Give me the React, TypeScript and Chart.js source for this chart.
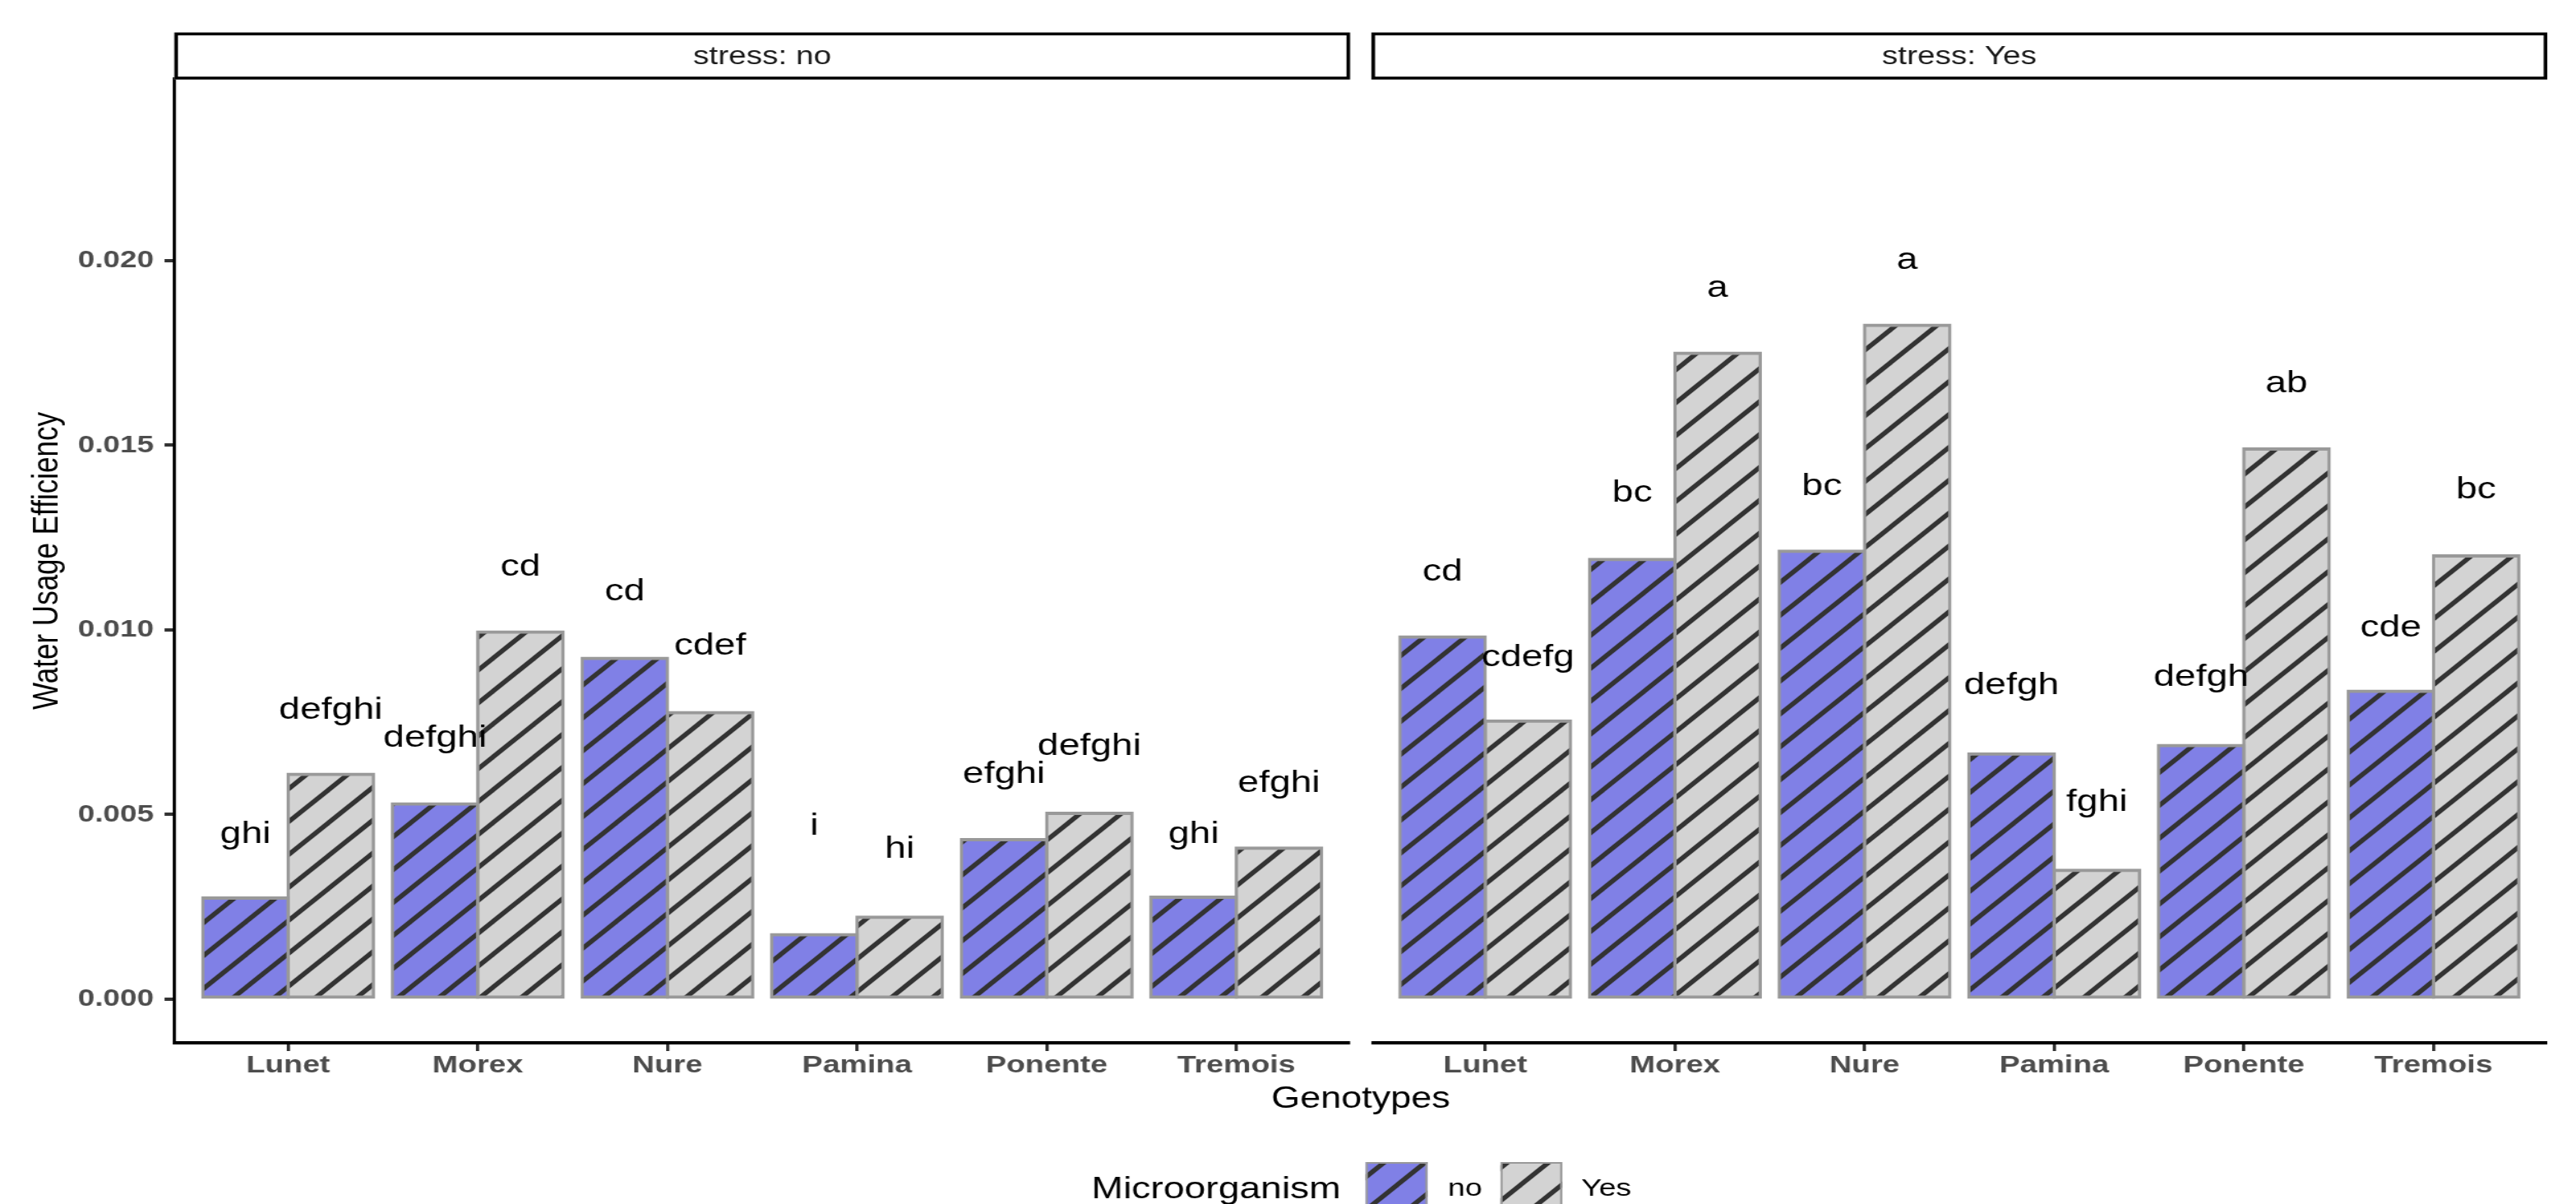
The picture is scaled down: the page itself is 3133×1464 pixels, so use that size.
import React, { useEffect, useRef } from "react";
import { Chart, registerables } from "chart.js";
Chart.register(...registerables);

// ---------------- data ----------------
const genotypes = ["Lunet", "Morex", "Nure", "Pamina", "Ponente", "Tremois"];
const panelTitles = ["stress: no", "stress: Yes"];
const microorganismLevels = ["no", "Yes"];
const yTickValues = [0, 0.005, 0.01, 0.015, 0.02];

// Water usage efficiency (bar heights)
const wueNoStressMicroNo = [0.00275, 0.0053, 0.00924, 0.00176, 0.00433, 0.00277];
const wueNoStressMicroYes = [0.0061, 0.00995, 0.00777, 0.00223, 0.00504, 0.0041];
const wueStressMicroNo = [0.00982, 0.01192, 0.01214, 0.00665, 0.00688, 0.00835];
const wueStressMicroYes = [0.00754, 0.0175, 0.01826, 0.0035, 0.01491, 0.01201];

// significance letters
const lettersNoStressMicroNo = ["ghi", "defghi", "cd", "i", "efghi", "ghi"];
const lettersNoStressMicroYes = ["defghi", "cd", "cdef", "hi", "defghi", "efghi"];
const lettersStressMicroNo = ["cd", "bc", "bc", "defgh", "defgh", "cde"];
const lettersStressMicroYes = ["cdefg", "a", "a", "fghi", "ab", "bc"];

// letter positions (value units, text baseline)
const letterYNoStressMicroNo = [0.00424, 0.00683, 0.0108, 0.00446, 0.00585, 0.00424];
const letterYNoStressMicroYes = [0.00759, 0.01147, 0.00933, 0.00384, 0.00661, 0.00562];
const letterYStressMicroNo = [0.01134, 0.01348, 0.01366, 0.00826, 0.00848, 0.00982];
const letterYStressMicroYes = [0.00902, 0.01902, 0.01978, 0.00509, 0.01643, 0.01357];

// ---------------- layout ----------------
const CANVAS_W = 2506;
const CANVAS_H = 1464;
const SCREEN_W = 3133;
const SX = SCREEN_W / CANVAS_W;
const ix = (s: number) => s / SX;
const FONT = "'Liberation Sans', Arial, Helvetica, sans-serif";

const X_MIN = 0.4;
const PANEL_SPAN = 6.2;
const PANEL_GAP = 26 / (1430 / 6.2);
const RIGHT_OFFSET = PANEL_SPAN + PANEL_GAP;
const X_MAX = X_MIN + PANEL_SPAN * 2 + PANEL_GAP;
const xLeft = genotypes.map((_, i) => i + 1);
const xRight = genotypes.map((_, i) => i + 1 + RIGHT_OFFSET);
const xTickValues = [...xLeft, ...xRight];
const xTickLabels = [...genotypes, ...genotypes];

const lettersByDataset = [
  [...lettersNoStressMicroNo, ...lettersStressMicroNo],
  [...lettersNoStressMicroYes, ...lettersStressMicroYes],
];
const letterYByDataset = [
  [...letterYNoStressMicroNo, ...letterYStressMicroNo],
  [...letterYNoStressMicroYes, ...letterYStressMicroYes],
];

function makePattern(fill: string) {
  const P = 40;
  const c = document.createElement("canvas");
  c.width = P;
  c.height = P;
  const g = c.getContext("2d")!;
  g.fillStyle = fill;
  g.fillRect(0, 0, P, P);
  g.strokeStyle = "#333333";
  g.lineWidth = 5.2;
  for (const k of [0, P, 2 * P]) {
    g.beginPath();
    g.moveTo(k - 2 * P, 2 * P);
    g.lineTo(k + 2 * P, -2 * P);
    g.stroke();
  }
  return g.createPattern(c, "repeat")!;
}

export default function App() {
  const ref = useRef<HTMLCanvasElement | null>(null);

  useEffect(() => {
    document.body.style.margin = "0";
    const canvas = ref.current!;
    const patNo = makePattern("#8080E6");
    const patYes = makePattern("#D3D3D3");
    const patterns = [patNo, patYes];

    const barBorder = { top: 4, bottom: 4, left: 3.2, right: 3.2 };

    const decor = {
      id: "decor",
      afterDatasetsDraw(chart: any) {
        const ctx = chart.ctx;
        const ys = chart.scales.y;
        ctx.save();
        ctx.fillStyle = "#000000";
        ctx.font = `37px ${FONT}`;
        ctx.textAlign = "center";
        ctx.textBaseline = "alphabetic";
        for (let d = 0; d < 2; d++) {
          const meta = chart.getDatasetMeta(d);
          meta.data.forEach((bar: any, i: number) => {
            ctx.fillText(lettersByDataset[d][i], bar.x, ys.getPixelForValue(letterYByDataset[d][i]));
          });
        }
        ctx.restore();
      },
      afterDraw(chart: any) {
        const ctx = chart.ctx;
        const xs = chart.scales.x;
        const area = chart.chartArea;
        ctx.save();
        const panels = [
          [xs.getPixelForValue(X_MIN), xs.getPixelForValue(X_MIN + PANEL_SPAN)],
          [xs.getPixelForValue(X_MIN + RIGHT_OFFSET), xs.getPixelForValue(X_MAX)],
        ];
        panels.forEach(([a, b], p) => {
          // x axis line
          ctx.fillStyle = "#000000";
          const start = p === 0 ? a - 1.6 : a;
          ctx.fillRect(start, area.bottom - 2, b - start, 4);
          // strip
          ctx.fillStyle = "#ffffff";
          ctx.fillRect(a, 39.5, b - a, 57.2);
          ctx.strokeStyle = "#000000";
          ctx.lineWidth = 3.5;
          ctx.strokeRect(a + 1.75, 41.25, b - a - 3.5, 53.7);
          ctx.fillStyle = "#1A1A1A";
          ctx.font = `31px ${FONT}`;
          ctx.textAlign = "center";
          ctx.textBaseline = "alphabetic";
          ctx.fillText(panelTitles[p], (a + b) / 2, 78);
        });

        // legend
        ctx.textAlign = "left";
        ctx.textBaseline = "alphabetic";
        ctx.fillStyle = "#000000";
        ctx.font = `37px ${FONT}`;
        ctx.fillText("Microorganism", ix(1327.5), 1457);
        const keyX = [ix(1661), ix(1825)];
        const labX = [ix(1761), ix(1923)];
        const keyW = ix(1736) - ix(1661);
        for (let k = 0; k < 2; k++) {
          ctx.fillStyle = patterns[k];
          ctx.fillRect(keyX[k], 1413, keyW, 60);
          ctx.strokeStyle = "#999999";
          ctx.lineWidth = 2;
          ctx.strokeRect(keyX[k] + 1, 1414, keyW - 2, 60);
          ctx.fillStyle = "#000000";
          ctx.font = `30px ${FONT}`;
          ctx.fillText(microorganismLevels[k], labX[k], 1454);
        }
        ctx.restore();
      },
    };

    const chart = new Chart(canvas, {
      type: "bar",
      data: {
        datasets: [
          {
            label: microorganismLevels[0],
            data: [
              ...xLeft.map((x, i) => ({ x, y: wueNoStressMicroNo[i] })),
              ...xRight.map((x, i) => ({ x, y: wueStressMicroNo[i] })),
            ],
            backgroundColor: patNo,
            borderColor: "#999999",
            borderWidth: barBorder,
            borderSkipped: false,
            inflateAmount: 1.6,
            categoryPercentage: 0.9,
            barPercentage: 1.0,
          } as any,
          {
            label: microorganismLevels[1],
            data: [
              ...xLeft.map((x, i) => ({ x, y: wueNoStressMicroYes[i] })),
              ...xRight.map((x, i) => ({ x, y: wueStressMicroYes[i] })),
            ],
            backgroundColor: patYes,
            borderColor: "#999999",
            borderWidth: barBorder,
            borderSkipped: false,
            inflateAmount: 1.6,
            categoryPercentage: 0.9,
            barPercentage: 1.0,
          } as any,
        ],
      },
      options: {
        responsive: false,
        animation: false,
        events: [],
        layout: {
          padding: { top: 96, left: 0, right: CANVAS_W - ix(3098), bottom: CANVAS_H - 1268 - 91 },
        },
        plugins: { legend: { display: false }, tooltip: { enabled: false }, title: { display: false } },
        scales: {
          x: {
            type: "linear",
            min: X_MIN,
            max: X_MAX,
            bounds: "data",
            offset: false,
            afterBuildTicks: (s: any) => {
              s.ticks = xTickValues.map((v) => ({ value: v }));
            },
            afterFit: (s: any) => {
              s.height = 91;
            },
            grid: {
              display: true,
              offset: false,
              drawOnChartArea: false,
              drawTicks: true,
              tickLength: 10,
              color: "#333333",
              lineWidth: 3.2,
            },
            border: { display: false },
            ticks: {
              autoSkip: false,
              maxRotation: 0,
              minRotation: 0,
              padding: 0,
              color: "#4D4D4D",
              font: { family: FONT, size: 30, weight: "bold" },
              callback: (_v: any, i: number) => xTickLabels[i],
            },
            title: {
              display: true,
              text: "Genotypes",
              color: "#000000",
              font: { family: FONT, size: 36 },
              padding: 0,
            },
          },
          y: {
            type: "linear",
            min: -0.00118,
            max: 0.02492,
            bounds: "data",
            afterBuildTicks: (s: any) => {
              s.ticks = yTickValues.map((v) => ({ value: v }));
            },
            afterFit: (s: any) => {
              s.width = ix(212);
            },
            grid: {
              display: true,
              drawOnChartArea: false,
              drawTicks: true,
              tickLength: 9.6,
              color: "#333333",
              lineWidth: 4,
            },
            border: { display: true, color: "#000000", width: 3.2 },
            ticks: {
              padding: 10.4,
              color: "#4D4D4D",
              font: { family: FONT, size: 29.5, weight: "bold" },
              callback: (v: any) => Number(v).toFixed(3),
            },
            title: {
              display: true,
              text: "Water Usage Efficiency",
              color: "#000000",
              font: { family: FONT, size: 35 },
              padding: { top: 25, bottom: 0 },
            },
          },
        },
      } as any,
      plugins: [decor as any],
    });
    canvas.style.width = SCREEN_W + "px";
    canvas.style.height = CANVAS_H + "px";

    return () => {
      chart.destroy();
    };
  }, []);

  return (
    <div
      style={{
        position: "fixed",
        left: 0,
        top: 0,
        width: SCREEN_W + "px",
        height: CANVAS_H + "px",
        background: "#ffffff",
        overflow: "hidden",
      }}
    >
      <canvas
        ref={ref}
        width={CANVAS_W}
        height={CANVAS_H}
        style={{ width: SCREEN_W + "px", height: CANVAS_H + "px", display: "block" }}
      />
    </div>
  );
}
